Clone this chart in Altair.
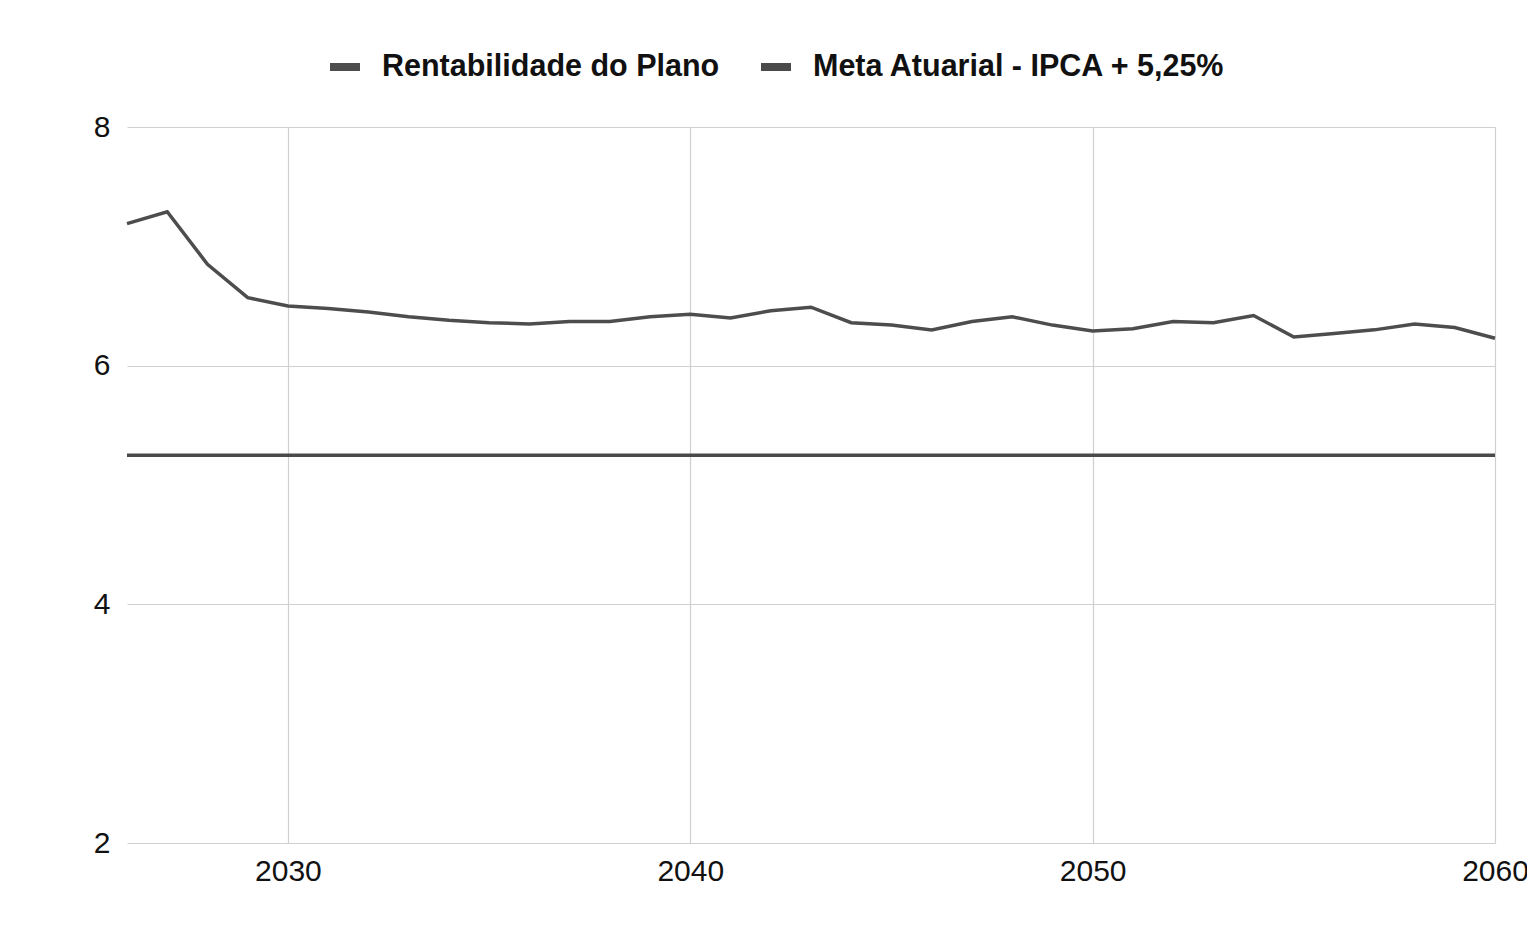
import altair as alt
import pandas as pd

years = [2026, 2027, 2028, 2029, 2030, 2031, 2032, 2033, 2034, 2035, 2036, 2037,
         2038, 2039, 2040, 2041, 2042, 2043, 2044, 2045, 2046, 2047, 2048, 2049,
         2050, 2051, 2052, 2053, 2054, 2055, 2056, 2057, 2058, 2059, 2060]
rentabilidade = [7.19, 7.29, 6.85, 6.57, 6.50, 6.48, 6.45, 6.41, 6.38, 6.36, 6.35, 6.37,
                 6.37, 6.41, 6.43, 6.40, 6.46, 6.49, 6.36, 6.34, 6.30, 6.37, 6.41, 6.34,
                 6.29, 6.31, 6.37, 6.36, 6.42, 6.24, 6.27, 6.30, 6.35, 6.32, 6.23]
meta = [5.25, 5.25, 5.25, 5.25, 5.25, 5.25, 5.25, 5.25, 5.25, 5.25, 5.25, 5.25,
        5.25, 5.25, 5.25, 5.25, 5.25, 5.25, 5.25, 5.25, 5.25, 5.25, 5.25, 5.25,
        5.25, 5.25, 5.25, 5.25, 5.25, 5.25, 5.25, 5.25, 5.25, 5.25, 5.25]
series = ["Rentabilidade do Plano", "Meta Atuarial - IPCA + 5,25%"]
x_ticks = [2030, 2040, 2050, 2060]
y_ticks = [2, 4, 6, 8]

rows = []
for name, vals in zip(series, [rentabilidade, meta]):
    for yr, v in zip(years, vals):
        rows.append({"ano": yr, "valor": v, "serie": name})
df = pd.DataFrame(rows)

FONT = "Liberation Sans"

chart = alt.Chart(df).mark_line(strokeWidth=3.5).encode(
    x=alt.X("ano:Q",
            scale=alt.Scale(domain=[2026, 2060], nice=False, zero=False),
            axis=alt.Axis(values=x_ticks, format="d", title=None, ticks=False,
                          domain=False, labelFontSize=30, labelPadding=13,
                          labelFlush=False, labelOverlap=False,
                          labelColor="#111111", labelFont=FONT,
                          gridColor="#d0d0d0", gridWidth=1.2)),
    y=alt.Y("valor:Q",
            scale=alt.Scale(domain=[2, 8], nice=False, zero=False),
            axis=alt.Axis(values=y_ticks, title=None, ticks=False, domain=False,
                          labelFontSize=30, labelPadding=17, labelColor="#111111",
                          labelFont=FONT, gridColor="#d0d0d0", gridWidth=1.2)),
    color=alt.Color("serie:N",
                    scale=alt.Scale(domain=series, range=["#4d4d4d", "#4a4a4a"]),
                    sort=series,
                    legend=alt.Legend(orient="none", legendX=199, legendY=-79,
                                      direction="horizontal", title=None,
                                      labelFont=FONT, labelFontSize=30.5,
                                      labelFontWeight="bold", labelColor="#111111",
                                      symbolType="stroke", symbolSize=900,
                                      symbolStrokeWidth=8, labelOffset=18,
                                      columnPadding=25, labelLimit=600)),
).properties(
    width=1368, height=716,
    autosize=alt.AutoSizeParams(type="none"),
    padding={"left": 127, "top": 127, "right": 32, "bottom": 87},
    background="white",
).configure_view(stroke=None)

chart.save("out.html", embed_options={"renderer": "svg", "actions": False})
